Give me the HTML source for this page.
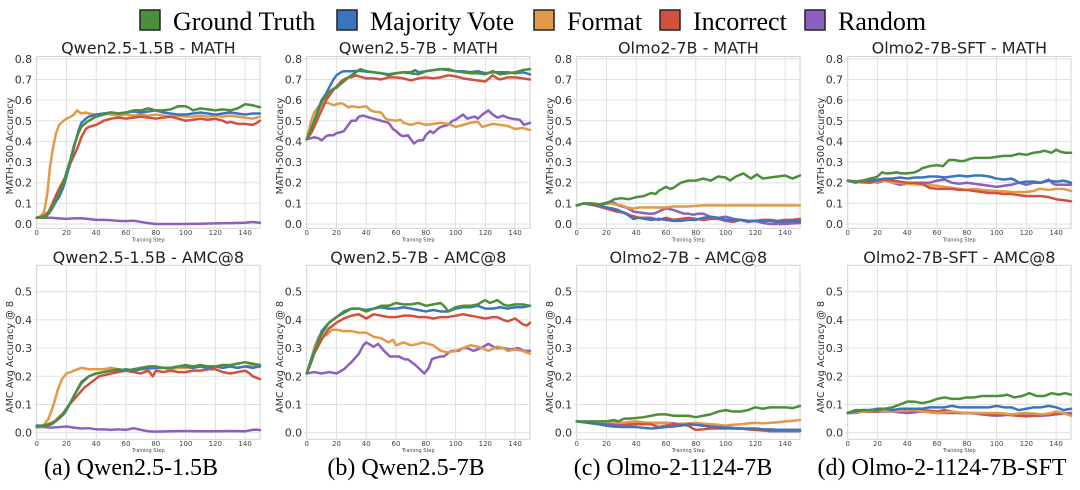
<!DOCTYPE html>
<html>
<head>
<meta charset="utf-8">
<style>
  html,body{margin:0;padding:0;background:#fff;}
  svg{display:block;}
  .tk{font-family:"DejaVu Sans","Liberation Sans",sans-serif;font-size:11px;fill:#333;text-anchor:end;}
  .xt{font-family:"DejaVu Sans","Liberation Sans",sans-serif;font-size:7px;fill:#444;text-anchor:middle;}
  .xl{font-family:"DejaVu Sans","Liberation Sans",sans-serif;font-size:5px;fill:#444;text-anchor:middle;}
  .yl{font-family:"DejaVu Sans","Liberation Sans",sans-serif;font-size:9.7px;fill:#333;text-anchor:middle;}
  .ti{font-family:"DejaVu Sans","Liberation Sans",sans-serif;font-size:16px;fill:#222;text-anchor:middle;}
  .cap{font-family:"Liberation Serif",serif;font-size:24px;fill:#000;text-anchor:middle;}
  .lg{font-family:"Liberation Serif",serif;font-size:26px;fill:#000;}
  .s polyline{fill:none;stroke-width:2.5;stroke-linejoin:round;stroke-linecap:round;vector-effect:non-scaling-stroke;}
  .g{stroke:#4b8f3a}.b{stroke:#3a76bf}.o{stroke:#e29a48}.r{stroke:#d4503e}.p{stroke:#8c5fc0}
</style>
</head>
<body>
<svg width="1080" height="490" viewBox="0 0 1080 490" xmlns="http://www.w3.org/2000/svg">
<defs>
  <g id="gt">
    <rect x="0" y="56.5" width="223.3" height="171.8" fill="#fff" stroke="#d2d2d2" stroke-width="1"/>
    <g stroke="#e0e0e0" stroke-width="1">
      <line x1="-3" x2="223.3" y1="224" y2="224"/>
      <line x1="-3" x2="223.3" y1="203.35" y2="203.35"/>
      <line x1="-3" x2="223.3" y1="182.7" y2="182.7"/>
      <line x1="-3" x2="223.3" y1="162.05" y2="162.05"/>
      <line x1="-3" x2="223.3" y1="141.4" y2="141.4"/>
      <line x1="-3" x2="223.3" y1="120.75" y2="120.75"/>
      <line x1="-3" x2="223.3" y1="100.1" y2="100.1"/>
      <line x1="-3" x2="223.3" y1="79.45" y2="79.45"/>
      <line x1="-3" x2="223.3" y1="58.8" y2="58.8"/>
      <line x1="29.77" x2="29.77" y1="56.5" y2="228.3"/>
      <line x1="59.55" x2="59.55" y1="56.5" y2="228.3"/>
      <line x1="89.32" x2="89.32" y1="56.5" y2="228.3"/>
      <line x1="119.09" x2="119.09" y1="56.5" y2="228.3"/>
      <line x1="148.87" x2="148.87" y1="56.5" y2="228.3"/>
      <line x1="178.64" x2="178.64" y1="56.5" y2="228.3"/>
      <line x1="208.41" x2="208.41" y1="56.5" y2="228.3"/>
    </g>
  </g>
  <g id="gb">
    <rect x="0" y="265.3" width="223.3" height="174" fill="#fff" stroke="#d2d2d2" stroke-width="1"/>
    <g stroke="#e0e0e0" stroke-width="1">
      <line x1="-3" x2="223.3" y1="432.7" y2="432.7"/>
      <line x1="-3" x2="223.3" y1="404.5" y2="404.5"/>
      <line x1="-3" x2="223.3" y1="376.3" y2="376.3"/>
      <line x1="-3" x2="223.3" y1="348.1" y2="348.1"/>
      <line x1="-3" x2="223.3" y1="319.9" y2="319.9"/>
      <line x1="-3" x2="223.3" y1="291.7" y2="291.7"/>
      <line x1="29.77" x2="29.77" y1="265.3" y2="439.3"/>
      <line x1="59.55" x2="59.55" y1="265.3" y2="439.3"/>
      <line x1="89.32" x2="89.32" y1="265.3" y2="439.3"/>
      <line x1="119.09" x2="119.09" y1="265.3" y2="439.3"/>
      <line x1="148.87" x2="148.87" y1="265.3" y2="439.3"/>
      <line x1="178.64" x2="178.64" y1="265.3" y2="439.3"/>
      <line x1="208.41" x2="208.41" y1="265.3" y2="439.3"/>
    </g>
  </g>
</defs>
<rect width="1080" height="490" fill="#fff"/>

<!-- Legend -->
<g stroke="#222" stroke-width="1.5">
  <rect x="140" y="10" width="20" height="20" fill="#4b8f3a"/>
  <rect x="337" y="10" width="20" height="20" fill="#3a76bf"/>
  <rect x="534" y="10" width="20" height="20" fill="#e29a48"/>
  <rect x="660" y="10" width="20" height="20" fill="#d4503e"/>
  <rect x="805" y="10" width="20" height="20" fill="#8c5fc0"/>
</g>
<text class="lg" x="173" y="30">Ground Truth</text>
<text class="lg" x="370" y="30">Majority Vote</text>
<text class="lg" x="567" y="30">Format</text>
<text class="lg" x="693" y="30">Incorrect</text>
<text class="lg" x="838" y="30">Random</text>

<!-- Grids -->
<use href="#gt" x="36.7"/><use href="#gt" x="306.7"/><use href="#gt" x="576.7"/><use href="#gt" x="847.7"/>
<use href="#gb" x="36.7"/><use href="#gb" x="306.7"/><use href="#gb" x="576.7"/><use href="#gb" x="847.7"/>

<!-- Titles -->
<text class="ti" x="148.35" y="53.5">Qwen2.5-1.5B - MATH</text>
<text class="ti" x="418.35" y="53.5">Qwen2.5-7B - MATH</text>
<text class="ti" x="688.35" y="53.5">Olmo2-7B - MATH</text>
<text class="ti" x="959.35" y="53.5">Olmo2-7B-SFT - MATH</text>
<text class="ti" x="148.35" y="263">Qwen2.5-1.5B - AMC@8</text>
<text class="ti" x="418.35" y="263">Qwen2.5-7B - AMC@8</text>
<text class="ti" x="688.35" y="263">Olmo2-7B - AMC@8</text>
<text class="ti" x="959.35" y="263">Olmo2-7B-SFT - AMC@8</text>

<!-- Y labels -->
<text class="yl" transform="translate(13,146) rotate(-90)">MATH-500 Accuracy</text>
<text class="yl" transform="translate(283,146) rotate(-90)">MATH-500 Accuracy</text>
<text class="yl" transform="translate(553,146) rotate(-90)">MATH-500 Accuracy</text>
<text class="yl" transform="translate(824,146) rotate(-90)">MATH-500 Accuracy</text>
<text class="yl" transform="translate(13,357) rotate(-90)">AMC Avg Accuracy @ 8</text>
<text class="yl" transform="translate(283,357) rotate(-90)">AMC Avg Accuracy @ 8</text>
<text class="yl" transform="translate(553,357) rotate(-90)">AMC Avg Accuracy @ 8</text>
<text class="yl" transform="translate(824,357) rotate(-90)">AMC Avg Accuracy @ 8</text>

<!-- Y tick labels top -->
<g class="tk">
<text x="32.2" y="228">0.0</text><text x="32.2" y="207.4">0.1</text><text x="32.2" y="186.7">0.2</text><text x="32.2" y="166">0.3</text><text x="32.2" y="145.4">0.4</text><text x="32.2" y="124.8">0.5</text><text x="32.2" y="104.1">0.6</text><text x="32.2" y="83.5">0.7</text><text x="32.2" y="62.8">0.8</text>
<text x="302.2" y="228">0.0</text><text x="302.2" y="207.4">0.1</text><text x="302.2" y="186.7">0.2</text><text x="302.2" y="166">0.3</text><text x="302.2" y="145.4">0.4</text><text x="302.2" y="124.8">0.5</text><text x="302.2" y="104.1">0.6</text><text x="302.2" y="83.5">0.7</text><text x="302.2" y="62.8">0.8</text>
<text x="572.2" y="228">0.0</text><text x="572.2" y="207.4">0.1</text><text x="572.2" y="186.7">0.2</text><text x="572.2" y="166">0.3</text><text x="572.2" y="145.4">0.4</text><text x="572.2" y="124.8">0.5</text><text x="572.2" y="104.1">0.6</text><text x="572.2" y="83.5">0.7</text><text x="572.2" y="62.8">0.8</text>
<text x="843.2" y="228">0.0</text><text x="843.2" y="207.4">0.1</text><text x="843.2" y="186.7">0.2</text><text x="843.2" y="166">0.3</text><text x="843.2" y="145.4">0.4</text><text x="843.2" y="124.8">0.5</text><text x="843.2" y="104.1">0.6</text><text x="843.2" y="83.5">0.7</text><text x="843.2" y="62.8">0.8</text>
<!-- bottom -->
<text x="32.2" y="436.7">0.0</text><text x="32.2" y="408.5">0.1</text><text x="32.2" y="380.3">0.2</text><text x="32.2" y="352.1">0.3</text><text x="32.2" y="323.9">0.4</text><text x="32.2" y="295.7">0.5</text>
<text x="302.2" y="436.7">0.0</text><text x="302.2" y="408.5">0.1</text><text x="302.2" y="380.3">0.2</text><text x="302.2" y="352.1">0.3</text><text x="302.2" y="323.9">0.4</text><text x="302.2" y="295.7">0.5</text>
<text x="572.2" y="436.7">0.0</text><text x="572.2" y="408.5">0.1</text><text x="572.2" y="380.3">0.2</text><text x="572.2" y="352.1">0.3</text><text x="572.2" y="323.9">0.4</text><text x="572.2" y="295.7">0.5</text>
<text x="843.2" y="436.7">0.0</text><text x="843.2" y="408.5">0.1</text><text x="843.2" y="380.3">0.2</text><text x="843.2" y="352.1">0.3</text><text x="843.2" y="323.9">0.4</text><text x="843.2" y="295.7">0.5</text>
</g>

<!-- X tick labels -->
<g class="xt">
<text x="36.7" y="235">0</text><text x="66.5" y="235">20</text><text x="96.2" y="235">40</text><text x="126" y="235">60</text><text x="155.8" y="235">80</text><text x="185.6" y="235">100</text><text x="215.3" y="235">120</text><text x="245.1" y="235">140</text>
<text x="306.7" y="235">0</text><text x="336.5" y="235">20</text><text x="366.2" y="235">40</text><text x="396" y="235">60</text><text x="425.8" y="235">80</text><text x="455.6" y="235">100</text><text x="485.3" y="235">120</text><text x="515.1" y="235">140</text>
<text x="576.7" y="235">0</text><text x="606.5" y="235">20</text><text x="636.2" y="235">40</text><text x="666" y="235">60</text><text x="695.8" y="235">80</text><text x="725.6" y="235">100</text><text x="755.3" y="235">120</text><text x="785.1" y="235">140</text>
<text x="847.7" y="235">0</text><text x="877.5" y="235">20</text><text x="907.2" y="235">40</text><text x="937" y="235">60</text><text x="966.8" y="235">80</text><text x="996.6" y="235">100</text><text x="1026.3" y="235">120</text><text x="1056.1" y="235">140</text>
<text x="36.7" y="446">0</text><text x="66.5" y="446">20</text><text x="96.2" y="446">40</text><text x="126" y="446">60</text><text x="155.8" y="446">80</text><text x="185.6" y="446">100</text><text x="215.3" y="446">120</text><text x="245.1" y="446">140</text>
<text x="306.7" y="446">0</text><text x="336.5" y="446">20</text><text x="366.2" y="446">40</text><text x="396" y="446">60</text><text x="425.8" y="446">80</text><text x="455.6" y="446">100</text><text x="485.3" y="446">120</text><text x="515.1" y="446">140</text>
<text x="576.7" y="446">0</text><text x="606.5" y="446">20</text><text x="636.2" y="446">40</text><text x="666" y="446">60</text><text x="695.8" y="446">80</text><text x="725.6" y="446">100</text><text x="755.3" y="446">120</text><text x="785.1" y="446">140</text>
<text x="847.7" y="446">0</text><text x="877.5" y="446">20</text><text x="907.2" y="446">40</text><text x="937" y="446">60</text><text x="966.8" y="446">80</text><text x="996.6" y="446">100</text><text x="1026.3" y="446">120</text><text x="1056.1" y="446">140</text>
</g>
<g class="xl">
<text x="148.35" y="241.5">Training Step</text><text x="418.35" y="241.5">Training Step</text><text x="688.35" y="241.5">Training Step</text><text x="959.35" y="241.5">Training Step</text>
<text x="148.35" y="452">Training Step</text><text x="418.35" y="452">Training Step</text><text x="688.35" y="452">Training Step</text><text x="959.35" y="452">Training Step</text>
</g>

<!-- Panel 1 top -->
<g class="s" transform="translate(36.7,224) scale(1.48867,-206.5)">
<polyline class="p" points="0,0.03 5,0.03 10,0.03 15,0.027 20,0.025 25,0.027 30,0.028 35,0.024 40,0.02 45,0.02 50,0.018 55,0.015 60,0.014 65,0.016 70,0.01 75,0.004 80,0 90,0 100,0 110,0.001 120,0.003 130,0.004 140,0.006 145,0.01 150,0.006"/>
<polyline class="o" points="0,0.03 3,0.04 5,0.06 7,0.14 9,0.28 11,0.37 13,0.44 15,0.48 18,0.5 20,0.51 23,0.52 25,0.53 27,0.55 30,0.535 33,0.54 35,0.535 40,0.53 45,0.535 50,0.53 55,0.525 60,0.53 65,0.525 70,0.53 75,0.525 80,0.53 85,0.525 90,0.52 95,0.525 100,0.52 105,0.52 110,0.525 115,0.52 120,0.525 125,0.52 130,0.525 135,0.52 140,0.515 145,0.51 150,0.52"/>
<polyline class="r" points="0,0.03 5,0.04 8,0.06 10,0.09 13,0.14 15,0.17 18,0.21 20,0.24 23,0.3 25,0.33 28,0.38 30,0.42 33,0.46 35,0.47 40,0.48 45,0.5 50,0.51 55,0.515 60,0.51 65,0.515 70,0.52 75,0.515 80,0.51 85,0.515 90,0.52 95,0.51 100,0.5 105,0.505 110,0.51 115,0.505 120,0.51 125,0.5 128,0.49 130,0.495 135,0.485 140,0.485 145,0.48 148,0.49 150,0.5"/>
<polyline class="b" points="0,0.03 5,0.03 8,0.05 10,0.07 13,0.11 15,0.13 18,0.18 20,0.23 23,0.31 25,0.37 28,0.45 30,0.49 33,0.51 35,0.52 40,0.53 45,0.535 50,0.54 55,0.535 60,0.54 65,0.545 70,0.54 75,0.545 80,0.55 85,0.54 90,0.535 95,0.53 100,0.53 105,0.535 110,0.54 115,0.535 120,0.53 125,0.535 130,0.54 135,0.535 140,0.53 145,0.535 150,0.535"/>
<polyline class="g" points="0,0.03 5,0.03 8,0.05 10,0.08 13,0.12 15,0.15 18,0.2 20,0.25 23,0.32 25,0.38 28,0.44 30,0.47 33,0.49 35,0.5 40,0.52 45,0.53 50,0.54 55,0.535 60,0.54 65,0.55 70,0.55 75,0.56 80,0.55 85,0.55 90,0.555 95,0.57 100,0.57 103,0.56 105,0.55 110,0.56 115,0.555 120,0.55 125,0.555 130,0.55 135,0.56 140,0.58 145,0.575 150,0.565"/>
</g>

<!-- Panel 1 bottom -->
<g class="s" transform="translate(36.7,432.7) scale(1.48867,-282)">
<polyline class="p" points="0,0.02 5,0.02 10,0.018 15,0.02 20,0.022 25,0.018 30,0.015 35,0.016 40,0.012 45,0.012 50,0.01 55,0.012 60,0.01 65,0.016 70,0.01 75,0.005 80,0.004 90,0.005 100,0.006 110,0.005 120,0.005 130,0.006 140,0.005 145,0.01 148,0.011 150,0.009"/>
<polyline class="o" points="0,0.02 3,0.02 5,0.03 8,0.05 10,0.08 12,0.11 14,0.15 17,0.19 20,0.21 23,0.215 25,0.22 30,0.23 35,0.225 40,0.225 45,0.225 50,0.23 55,0.225 60,0.22 65,0.22 70,0.225 75,0.225 80,0.23 85,0.23 90,0.225 95,0.23 100,0.23 105,0.23 110,0.235 115,0.23 120,0.235 125,0.23 130,0.235 135,0.23 140,0.235 145,0.24 150,0.235"/>
<polyline class="r" points="0,0.02 5,0.025 10,0.035 12,0.04 15,0.055 18,0.07 22,0.1 27,0.13 32,0.16 37,0.18 42,0.2 46,0.205 50,0.21 55,0.215 60,0.22 65,0.215 70,0.21 75,0.22 78,0.2 80,0.22 85,0.215 90,0.22 95,0.215 100,0.215 105,0.22 110,0.22 115,0.225 120,0.225 125,0.215 130,0.21 135,0.215 140,0.22 143,0.21 145,0.2 150,0.19"/>
<polyline class="b" points="0,0.025 5,0.025 10,0.03 15,0.05 18,0.065 20,0.08 22,0.1 26,0.14 30,0.175 35,0.2 40,0.21 45,0.215 50,0.22 55,0.22 60,0.225 65,0.22 70,0.225 75,0.23 80,0.23 85,0.23 90,0.23 95,0.235 100,0.235 105,0.23 110,0.235 115,0.23 120,0.235 125,0.23 130,0.235 135,0.23 140,0.235 145,0.23 150,0.235"/>
<polyline class="g" points="0,0.02 5,0.025 10,0.03 15,0.05 18,0.07 20,0.085 22,0.1 26,0.14 30,0.18 35,0.2 40,0.21 45,0.215 50,0.22 55,0.225 60,0.22 65,0.225 70,0.23 75,0.235 80,0.235 85,0.23 90,0.23 95,0.235 100,0.24 105,0.235 110,0.24 115,0.235 120,0.235 125,0.24 130,0.24 135,0.245 140,0.25 145,0.245 150,0.24"/>
</g>

<!-- Panel 2 top -->
<g class="s" transform="translate(306.7,224) scale(1.48867,-206.5)">
<polyline class="p" points="0,0.41 5,0.42 8,0.415 10,0.405 13,0.425 15,0.43 18,0.43 20,0.44 23,0.445 25,0.45 28,0.48 30,0.5 33,0.5 35,0.52 38,0.525 40,0.52 45,0.51 50,0.5 55,0.49 58,0.46 60,0.45 63,0.43 65,0.425 68,0.43 70,0.41 72,0.39 75,0.405 78,0.405 80,0.43 83,0.45 85,0.44 88,0.46 90,0.47 95,0.48 98,0.5 100,0.505 103,0.52 105,0.53 108,0.51 110,0.515 113,0.52 115,0.51 118,0.53 122,0.55 125,0.53 128,0.515 132,0.525 135,0.515 138,0.51 143,0.505 146,0.48 150,0.49"/>
<polyline class="o" points="0,0.41 3,0.5 5,0.54 8,0.57 10,0.58 13,0.59 15,0.585 18,0.575 20,0.58 23,0.585 25,0.58 28,0.565 30,0.57 35,0.565 40,0.57 43,0.55 45,0.545 50,0.54 53,0.51 55,0.505 60,0.5 63,0.505 65,0.49 70,0.48 75,0.49 80,0.48 85,0.485 90,0.49 95,0.485 100,0.47 105,0.48 110,0.49 115,0.495 118,0.47 120,0.475 125,0.485 130,0.48 135,0.475 140,0.46 145,0.465 150,0.455"/>
<polyline class="r" points="0,0.41 3,0.44 5,0.47 8,0.52 10,0.55 13,0.6 15,0.62 18,0.65 20,0.665 23,0.69 25,0.7 28,0.71 30,0.71 33,0.72 35,0.715 40,0.705 45,0.705 50,0.7 55,0.71 60,0.71 65,0.705 70,0.695 75,0.705 80,0.71 85,0.705 90,0.71 95,0.72 100,0.715 105,0.705 110,0.7 115,0.695 120,0.69 125,0.72 128,0.705 130,0.7 135,0.71 140,0.71 145,0.705 150,0.7"/>
<polyline class="b" points="0,0.41 3,0.46 5,0.5 8,0.56 10,0.6 13,0.63 15,0.66 18,0.7 20,0.72 23,0.735 25,0.74 30,0.74 35,0.742 40,0.738 45,0.735 50,0.73 55,0.725 60,0.73 65,0.735 70,0.735 73,0.745 75,0.735 80,0.74 85,0.745 90,0.75 95,0.745 100,0.74 105,0.74 110,0.735 115,0.74 120,0.73 125,0.735 130,0.735 135,0.735 140,0.73 145,0.735 150,0.725"/>
<polyline class="g" points="0,0.41 3,0.46 5,0.5 8,0.55 10,0.59 13,0.62 15,0.64 18,0.655 20,0.66 23,0.68 25,0.69 28,0.71 30,0.72 33,0.735 36,0.75 40,0.74 45,0.735 50,0.73 55,0.72 60,0.73 65,0.735 70,0.73 75,0.725 80,0.74 85,0.745 90,0.75 95,0.75 100,0.74 105,0.735 110,0.73 115,0.73 120,0.725 125,0.74 130,0.725 135,0.73 140,0.735 145,0.745 150,0.75"/>
</g>

<!-- Panel 2 bottom -->
<g class="s" transform="translate(306.7,432.7) scale(1.48867,-282)">
<polyline class="p" points="0,0.21 5,0.215 10,0.21 15,0.215 20,0.21 25,0.225 30,0.25 35,0.28 38,0.31 40,0.32 45,0.305 48,0.315 52,0.29 56,0.27 60,0.27 62,0.27 66,0.26 68,0.26 73,0.24 76,0.225 79,0.21 82,0.23 84,0.26 86,0.265 90,0.27 92,0.27 97,0.29 102,0.29 105,0.3 108,0.3 112,0.29 117,0.3 122,0.315 127,0.3 132,0.3 137,0.295 142,0.3 146,0.29 150,0.29"/>
<polyline class="o" points="0,0.21 3,0.26 5,0.3 8,0.34 10,0.35 13,0.345 15,0.355 17,0.365 20,0.365 25,0.36 30,0.36 35,0.355 40,0.355 45,0.34 50,0.335 55,0.32 58,0.33 60,0.31 65,0.32 70,0.31 75,0.315 78,0.32 85,0.31 90,0.29 95,0.285 100,0.29 105,0.3 110,0.31 115,0.305 118,0.3 122,0.29 128,0.305 132,0.3 135,0.29 140,0.295 145,0.29 150,0.28"/>
<polyline class="r" points="0,0.21 3,0.25 5,0.28 10,0.33 15,0.37 20,0.39 25,0.405 30,0.415 35,0.42 40,0.405 45,0.42 50,0.415 55,0.41 60,0.41 65,0.415 70,0.415 75,0.41 80,0.41 85,0.405 90,0.41 95,0.41 100,0.415 105,0.42 110,0.415 115,0.41 120,0.405 125,0.41 128,0.41 132,0.4 135,0.395 140,0.405 145,0.385 148,0.38 150,0.39"/>
<polyline class="b" points="0,0.21 3,0.26 6,0.3 10,0.36 15,0.39 20,0.41 25,0.43 30,0.44 35,0.44 40,0.435 45,0.44 50,0.445 55,0.44 60,0.44 65,0.445 70,0.44 75,0.435 80,0.43 85,0.435 90,0.43 95,0.43 100,0.44 105,0.445 110,0.445 115,0.45 120,0.44 125,0.44 130,0.445 135,0.44 140,0.445 145,0.445 150,0.45"/>
<polyline class="g" points="0,0.21 3,0.25 6,0.3 10,0.35 15,0.39 20,0.41 25,0.425 30,0.44 35,0.44 40,0.43 45,0.44 50,0.45 55,0.45 60,0.46 65,0.455 70,0.455 75,0.46 80,0.45 85,0.455 90,0.46 93,0.445 95,0.43 100,0.445 105,0.45 110,0.45 115,0.455 118,0.465 120,0.47 123,0.46 128,0.47 132,0.455 135,0.45 140,0.455 145,0.455 150,0.45"/>
</g>

<!-- Panel 3 top -->
<g class="s" transform="translate(576.7,224) scale(1.48867,-206.5)">
<polyline class="p" points="0,0.09 5,0.1 8,0.095 12,0.095 15,0.09 18,0.1 21,0.105 23,0.11 26,0.1 28,0.09 33,0.08 36,0.07 38,0.06 43,0.055 48,0.05 52,0.05 55,0.06 58,0.07 60,0.075 64,0.07 68,0.06 72,0.05 75,0.05 78,0.045 82,0.05 85,0.05 88,0.04 90,0.035 95,0.03 100,0.035 103,0.03 105,0.025 110,0.02 115,0.01 120,0.015 125,0.005 130,0 135,0 140,0 145,0.003 150,0.005"/>
<polyline class="o" points="0,0.09 5,0.1 10,0.1 15,0.095 22,0.1 26,0.095 30,0.09 34,0.08 38,0.075 42,0.08 45,0.08 50,0.08 55,0.08 60,0.08 65,0.085 70,0.085 75,0.085 80,0.088 85,0.09 100,0.09 120,0.09 150,0.09"/>
<polyline class="r" points="0,0.09 5,0.1 8,0.095 12,0.09 17,0.08 22,0.07 27,0.06 32,0.055 37,0.04 42,0.03 46,0.03 50,0.03 55,0.02 60,0.03 65,0.02 70,0.025 75,0.03 80,0.025 85,0.02 90,0.025 95,0.025 100,0.015 105,0.01 110,0.02 115,0.015 120,0.015 125,0.02 130,0.02 135,0.015 140,0.02 145,0.02 150,0.025"/>
<polyline class="b" points="0,0.09 5,0.1 10,0.095 15,0.09 20,0.08 24,0.075 27,0.07 30,0.06 33,0.05 36,0.035 38,0.025 42,0.03 46,0.025 50,0.02 55,0.025 60,0.02 65,0.015 70,0.015 75,0.02 80,0.02 85,0.03 90,0.035 95,0.03 100,0.02 105,0.02 110,0.02 115,0.015 120,0.015 125,0.015 130,0.015 135,0.01 140,0.01 145,0.015 150,0.015"/>
<polyline class="g" points="0,0.09 5,0.1 10,0.1 15,0.095 20,0.1 23,0.11 25,0.12 30,0.125 35,0.12 40,0.13 45,0.135 50,0.15 53,0.145 55,0.16 60,0.18 63,0.17 65,0.175 70,0.2 75,0.21 80,0.21 85,0.22 90,0.21 95,0.23 100,0.225 103,0.21 107,0.23 112,0.245 117,0.22 121,0.24 125,0.22 130,0.225 135,0.23 140,0.235 145,0.22 150,0.235"/>
</g>

<!-- Panel 3 bottom -->
<g class="s" transform="translate(576.7,432.7) scale(1.48867,-282)">
<polyline class="p" points="0,0.04 5,0.037 10,0.035 15,0.033 20,0.03 25,0.03 30,0.03 35,0.032 40,0.035 45,0.035 50,0.035 55,0.035 60,0.035 65,0.033 70,0.03 75,0.03 80,0.028 85,0.025 90,0.022 95,0.02 100,0.02 105,0.017 110,0.015 115,0.012 120,0.01 125,0.008 130,0.005 135,0.005 140,0.005 145,0.005 150,0.005"/>
<polyline class="o" points="0,0.04 5,0.038 10,0.035 15,0.038 20,0.04 25,0.037 30,0.035 35,0.038 40,0.04 45,0.037 50,0.035 55,0.033 60,0.035 65,0.03 70,0.032 75,0.033 80,0.035 85,0.032 90,0.03 95,0.028 100,0.025 105,0.028 110,0.03 115,0.033 120,0.035 125,0.033 130,0.035 135,0.037 140,0.04 145,0.042 150,0.045"/>
<polyline class="r" points="0,0.04 5,0.038 10,0.035 15,0.03 20,0.025 25,0.022 30,0.025 35,0.028 40,0.03 45,0.03 50,0.03 55,0.02 60,0.025 65,0.03 70,0.028 75,0.025 78,0.015 80,0.01 85,0.012 90,0.015 95,0.015 100,0.015 105,0.015 110,0.015 115,0.012 120,0.01 125,0.01 130,0.01 135,0.01 140,0.01 145,0.01 150,0.01"/>
<polyline class="b" points="0,0.04 5,0.037 10,0.033 15,0.03 20,0.025 25,0.022 30,0.02 35,0.02 40,0.02 45,0.017 50,0.015 55,0.017 60,0.02 65,0.022 70,0.025 75,0.03 80,0.028 85,0.025 90,0.022 95,0.02 100,0.018 105,0.015 110,0.015 115,0.015 120,0.015 125,0.012 130,0.012 135,0.01 140,0.01 145,0.01 150,0.01"/>
<polyline class="g" points="0,0.04 5,0.04 10,0.04 15,0.04 20,0.04 25,0.045 28,0.04 32,0.05 35,0.05 40,0.052 45,0.055 50,0.06 55,0.065 60,0.065 65,0.06 70,0.06 75,0.06 80,0.055 85,0.06 90,0.065 95,0.075 100,0.08 105,0.075 110,0.075 115,0.08 120,0.09 125,0.085 130,0.09 135,0.09 140,0.09 145,0.087 150,0.095"/>
</g>

<!-- Panel 4 top -->
<g class="s" transform="translate(847.7,224) scale(1.48867,-206.5)">
<polyline class="p" points="0,0.21 5,0.2 10,0.205 15,0.21 20,0.2 25,0.21 30,0.2 35,0.19 40,0.195 45,0.2 50,0.2 55,0.2 60,0.21 65,0.215 70,0.2 75,0.195 80,0.2 85,0.195 90,0.19 95,0.185 100,0.18 105,0.185 110,0.19 115,0.2 120,0.19 125,0.2 130,0.2 135,0.215 138,0.195 140,0.19 145,0.19 150,0.19"/>
<polyline class="o" points="0,0.21 5,0.205 10,0.2 15,0.2 20,0.205 25,0.21 30,0.2 35,0.2 40,0.195 45,0.192 50,0.19 55,0.188 60,0.185 65,0.18 70,0.175 75,0.17 80,0.165 85,0.17 90,0.165 95,0.162 100,0.16 105,0.158 110,0.155 115,0.155 120,0.155 125,0.16 128,0.17 132,0.168 135,0.165 140,0.17 145,0.17 150,0.16"/>
<polyline class="r" points="0,0.21 5,0.205 10,0.205 15,0.2 20,0.21 25,0.215 30,0.21 35,0.205 40,0.2 45,0.2 50,0.195 55,0.175 60,0.17 65,0.17 70,0.17 75,0.165 80,0.165 85,0.16 90,0.155 95,0.15 100,0.15 105,0.145 110,0.145 115,0.14 120,0.135 125,0.135 130,0.135 135,0.13 140,0.12 145,0.115 150,0.11"/>
<polyline class="b" points="0,0.21 5,0.205 10,0.21 15,0.21 20,0.215 25,0.22 30,0.22 35,0.225 40,0.22 45,0.225 50,0.225 55,0.23 60,0.23 65,0.225 70,0.23 75,0.235 80,0.23 85,0.235 90,0.235 95,0.23 100,0.22 105,0.215 110,0.22 113,0.21 115,0.2 120,0.205 125,0.205 130,0.2 135,0.21 140,0.205 145,0.21 150,0.2"/>
<polyline class="g" points="0,0.21 5,0.205 10,0.21 15,0.22 18,0.225 20,0.23 23,0.25 26,0.245 28,0.245 33,0.25 36,0.245 40,0.245 45,0.25 48,0.26 50,0.27 55,0.28 60,0.285 64,0.28 68,0.31 72,0.31 75,0.305 78,0.305 82,0.315 85,0.32 90,0.32 95,0.32 100,0.325 105,0.33 110,0.33 115,0.34 120,0.335 125,0.345 130,0.35 132,0.355 137,0.345 140,0.36 143,0.35 146,0.345 150,0.345"/>
</g>

<!-- Panel 4 bottom -->
<g class="s" transform="translate(847.7,432.7) scale(1.48867,-282)">
<polyline class="p" points="0,0.07 5,0.072 10,0.075 15,0.075 20,0.075 25,0.075 30,0.075 35,0.072 40,0.07 45,0.072 50,0.075 55,0.072 60,0.07 65,0.07 70,0.07 75,0.07 80,0.07 85,0.068 90,0.065 95,0.062 100,0.06 105,0.062 110,0.065 115,0.062 120,0.06 125,0.06 130,0.06 135,0.062 140,0.065 145,0.068 150,0.07"/>
<polyline class="r" points="0,0.07 5,0.07 10,0.075 15,0.075 20,0.075 25,0.078 30,0.08 35,0.08 40,0.08 45,0.08 50,0.08 55,0.078 60,0.075 65,0.08 70,0.075 75,0.07 80,0.07 85,0.07 90,0.068 95,0.065 100,0.065 105,0.065 110,0.062 115,0.06 120,0.058 125,0.06 130,0.062 135,0.065 140,0.068 145,0.07 150,0.065"/>
<polyline class="o" points="0,0.07 5,0.072 10,0.075 15,0.078 20,0.08 25,0.078 30,0.075 35,0.078 40,0.08 45,0.08 50,0.075 55,0.072 60,0.07 65,0.072 70,0.075 75,0.072 80,0.07 85,0.07 90,0.07 95,0.07 100,0.07 105,0.068 110,0.065 115,0.068 120,0.07 125,0.068 130,0.065 135,0.068 140,0.075 145,0.07 150,0.06"/>
<polyline class="b" points="0,0.07 5,0.075 10,0.08 15,0.08 20,0.085 25,0.085 30,0.08 35,0.085 40,0.085 45,0.085 50,0.085 55,0.09 60,0.09 65,0.09 70,0.095 75,0.09 80,0.09 85,0.09 90,0.09 95,0.09 100,0.095 105,0.09 110,0.09 115,0.08 120,0.085 125,0.09 130,0.09 135,0.095 140,0.09 145,0.08 150,0.085"/>
<polyline class="g" points="0,0.07 5,0.08 10,0.08 15,0.08 20,0.08 25,0.085 30,0.09 35,0.1 40,0.11 45,0.11 50,0.105 55,0.11 60,0.12 65,0.125 70,0.12 75,0.12 80,0.125 85,0.125 90,0.13 95,0.13 100,0.13 105,0.132 107,0.135 112,0.125 117,0.13 122,0.14 127,0.13 132,0.13 137,0.14 142,0.135 146,0.14 150,0.135"/>
</g>

<!-- Captions -->
<text class="cap" x="131" y="475">(a) Qwen2.5-1.5B</text>
<text class="cap" x="406" y="475">(b) Qwen2.5-7B</text>
<text class="cap" x="673" y="475">(c) Olmo-2-1124-7B</text>
<text class="cap" x="942" y="475">(d) Olmo-2-1124-7B-SFT</text>
</svg>
</body>
</html>
